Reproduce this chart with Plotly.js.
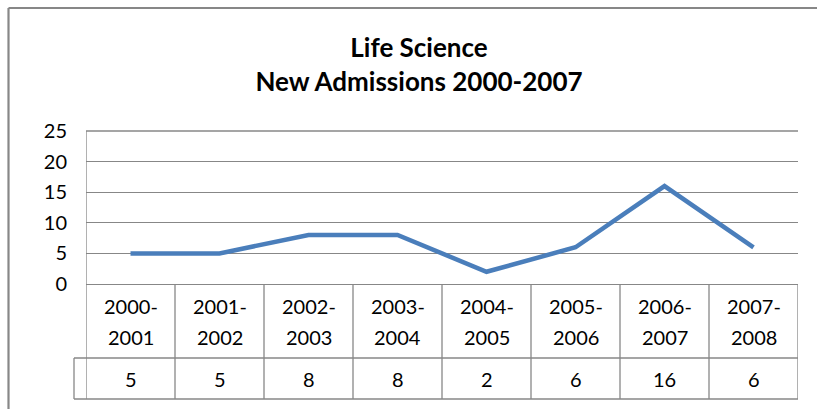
<!DOCTYPE html>
<html>
<head>
<meta charset="utf-8">
<script src="https://cdn.plot.ly/plotly-3.0.1.min.js"></script>
<style>
html,body{margin:0;padding:0;background:#fff;}
#chart{width:817px;height:409px;}
</style>
</head>
<body>
<div id="chart"></div>
<script>
// Data
const categories = ["2000-2001","2001-2002","2002-2003","2003-2004","2004-2005","2005-2006","2006-2007","2007-2008"];
const admissions = [5, 5, 8, 8, 2, 6, 16, 6];
const yTicks = [0, 5, 10, 15, 20, 25];

// Layout geometry (pixels)
const W = 817, Hh = 409;
const L = 86, R = 798, T = 131, B = 284;
const PW = R - L, PH = B - T;
const row1Bottom = 358, row2Bottom = 399, keyLeft = 74;
const frameX = 8.5, frameY = 8;
const gridColor = '#878787';
const font = 'Lato, "Open Sans", sans-serif';

const py = p => (B - p) / PH;       // pixel y -> paper y
const px = p => (p - L) / PW;       // pixel x -> paper x

const shapes = [];
const line = (x0, y0, x1, y1, w) => shapes.push({
  type: 'line', xref: 'paper', yref: 'paper',
  x0, y0, x1, y1, line: {color: gridColor, width: w || 1.3}, layer: 'above'
});

// outer chart frame
line(px(frameX), py(frameY), px(W + 5), py(frameY), 2.2);
line(px(frameX), py(frameY), px(frameX), py(Hh + 5), 2.2);

// top gridline (value 25)
line(0, 1, 1, 1);
// data table horizontal lines
line(px(keyLeft), py(row1Bottom), 1, py(row1Bottom));
line(px(keyLeft), py(row2Bottom), 1, py(row2Bottom));
line(px(keyLeft), py(row1Bottom), px(keyLeft), py(row2Bottom));
// data table vertical lines at category boundaries
for (let k = 0; k <= categories.length; k++) {
  shapes.push({type: 'line', xref: 'x', yref: 'paper', x0: k - 0.5, x1: k - 0.5,
    y0: k === 0 ? 1 : 0, y1: py(row2Bottom), line: {color: gridColor, width: 1.3}, layer: 'above'});
}

const annotations = [];
categories.forEach((c, i) => {
  const parts = c.split('-');
  annotations.push({xref: 'x', yref: 'paper', x: i, y: py(306), text: parts[0] + '-',
    showarrow: false, font: {family: font, size: 20, color: '#000'}, yanchor: 'middle'});
  annotations.push({xref: 'x', yref: 'paper', x: i, y: py(337), text: parts[1],
    showarrow: false, font: {family: font, size: 20, color: '#000'}, yanchor: 'middle'});
  annotations.push({xref: 'x', yref: 'paper', x: i, y: py(379), text: String(admissions[i]),
    showarrow: false, font: {family: font, size: 20, color: '#000'}, yanchor: 'middle'});
});

const trace = {
  type: 'scatter', mode: 'lines',
  x: categories.map((c, i) => i), y: admissions,
  line: {color: '#4a7ebb', width: 4.5},
  hoverinfo: 'skip', showlegend: false
};

const layout = {
  width: W, height: Hh,
  margin: {l: L, r: W - R, t: T, b: Hh - B, pad: 0},
  paper_bgcolor: '#fff', plot_bgcolor: '#fff',
  title: {
    text: '<b>Life Science</b><br><b>New Admissions 2000-2007</b>',
    font: {family: font, size: 26, color: '#000'},
    x: px(419), xref: 'paper', xanchor: 'center',
    y: 1 - 57 / Hh, yref: 'container', yanchor: 'middle'
  },
  xaxis: {
    range: [-0.5, categories.length - 0.5],
    showticklabels: false, showgrid: false, zeroline: false,
    showline: true, linecolor: gridColor, linewidth: 1.3, fixedrange: true
  },
  yaxis: {
    range: [0, 25], tickvals: yTicks, ticktext: yTicks.map(String),
    showgrid: true, gridcolor: gridColor, gridwidth: 1.3, zeroline: false,
    showline: false,
    ticks: '', ticklabelstandoff: 18,
    tickfont: {family: font, size: 20, color: '#000'}, fixedrange: true
  },
  shapes, annotations
};

Plotly.newPlot('chart', [trace], layout, {displayModeBar: false, staticPlot: true});
</script>
</body>
</html>
